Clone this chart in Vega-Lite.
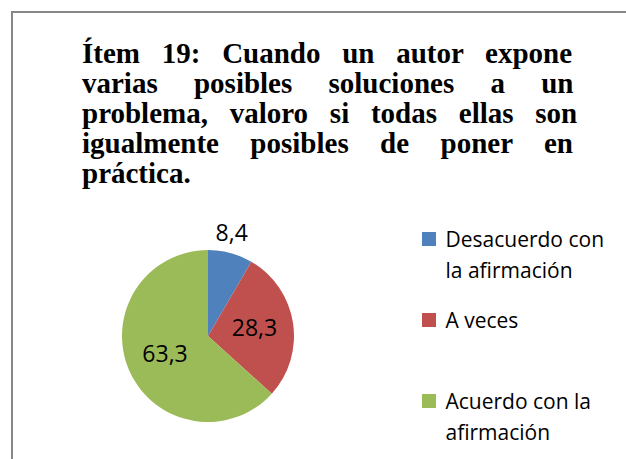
{
  "$schema": "https://vega.github.io/schema/vega-lite/v6.json",
  "width": 616,
  "height": 450,
  "autosize": {"type": "none"},
  "padding": {"left": 12, "top": 12, "right": -2, "bottom": -3},
  "background": "white",
  "view": {"stroke": "#888888", "strokeWidth": 2, "fill": "white"},
  "title": {
    "text": [
      "Ítem \u200219: \u2002Cuando \u2002un \u2002autor \u2002expone",
      "varias \u2002\u2002posibles \u2002\u2002soluciones \u2002\u2002a \u2002\u2002un",
      "problema, \u2002valoro \u2002si \u2002todas \u2002ellas \u2002son",
      "igualmente \u2002\u2004posibles \u2002\u2004de \u2002\u2004poner \u2002\u2004en",
      "práctica."
    ],
    "anchor": "start",
    "frame": "group",
    "orient": "top",
    "align": "left",
    "dx": 70,
    "offset": -200,
    "baseline": "alphabetic",
    "font": "Liberation Serif",
    "fontSize": 29,
    "fontWeight": "bold",
    "color": "#000000",
    "lineHeight": 30
  },
  "data": {
    "values": [
      {"id": 1, "categoria": "Desacuerdo con la afirmación", "valor": 8.4},
      {"id": 2, "categoria": "A veces", "valor": 28.3},
      {"id": 3, "categoria": "Acuerdo con la afirmación", "valor": 63.3}
    ]
  },
  "encoding": {
    "theta": {"field": "valor", "type": "quantitative", "stack": true},
    "order": {"field": "id", "type": "quantitative"}
  },
  "layer": [
    {
      "mark": {"type": "arc", "radius": 86, "xOffset": -112, "yOffset": 99},
      "encoding": {
        "color": {
          "field": "categoria",
          "type": "nominal",
          "scale": {
            "domain": ["Desacuerdo con la afirmación", "A veces", "Acuerdo con la afirmación"],
            "range": ["#4F81BD", "#C0504D", "#9BBB59"]
          },
          "legend": {
            "orient": "none",
            "legendX": 406.5,
            "legendY": 216.5,
            "title": null,
            "padding": 0,
            "symbolType": "square",
            "symbolSize": 196,
            "symbolStrokeWidth": 0,
            "symbolOpacity": 1,
            "labelFont": "Open Sans",
            "labelFontSize": 21,
            "labelColor": "#000000",
            "labelOffset": 6,
            "labelLimit": 300,
            "labelBaseline": "alphabetic",
            "gridAlign": "all",
            "rowPadding": 28,
            "labelExpr": "datum.label == 'Desacuerdo con la afirmación' ? ['Desacuerdo con', 'la afirmación'] : datum.label == 'Acuerdo con la afirmación' ? ['Acuerdo con la', 'afirmación'] : datum.label",
            "encode": {
              "labels": {"update": {"dy": {"value": 7.5}, "lineHeight": {"value": 31}}}
            }
          }
        }
      }
    },
    {
      "mark": {"type": "text", "radius": 47, "xOffset": -112, "yOffset": 99, "font": "Open Sans", "fontSize": 23, "color": "#000000", "align": "center", "baseline": "middle"},
      "encoding": {
        "text": {"condition": {"test": "datum.valor >= 10", "field": "valor", "type": "quantitative", "format": ".1f"}, "value": ""}
      }
    },
    {
      "mark": {"type": "text", "radius": 106, "xOffset": -116, "yOffset": 99, "font": "Open Sans", "fontSize": 23, "color": "#000000", "align": "center", "baseline": "middle"},
      "encoding": {
        "text": {"condition": {"test": "datum.valor < 10", "field": "valor", "type": "quantitative", "format": ".1f"}, "value": ""}
      }
    }
  ],
  "config": {
    "view": {"stroke": "#888888", "strokeWidth": 2},
    "locale": {"number": {"decimal": ",", "thousands": ".", "grouping": [3], "currency": ["", " €"]}}
  }
}
